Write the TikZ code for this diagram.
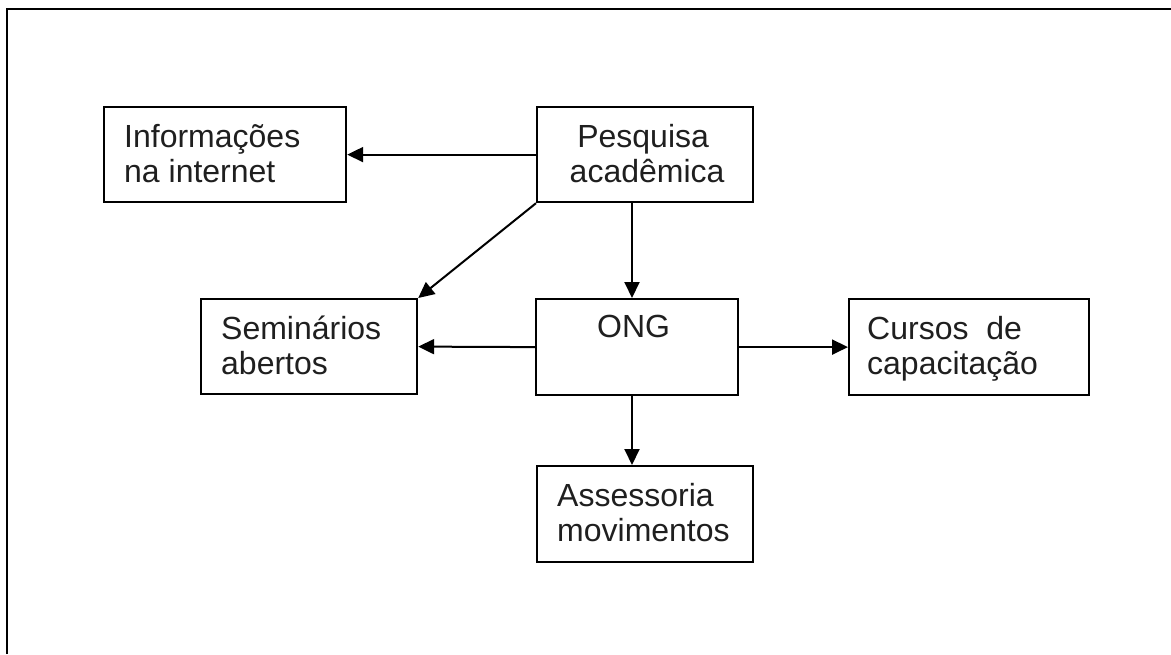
\documentclass[tikz,border=0pt]{standalone}
\usepackage{fontspec}
\setmainfont{Liberation Sans}
\usetikzlibrary{arrows.meta,calc}
\tikzset{
  box/.style={draw=black, line width=2.2pt, inner sep=0pt, anchor=north west},
  txt/.style={inner sep=0pt, anchor=base west, text=black!88, font=\fontsize{32}{35}\selectfont},
  ctxt/.style={inner sep=0pt, anchor=base, text=black!88, font=\fontsize{32}{35}\selectfont},
  arr/.style={draw=black, line width=2pt, -{Triangle[length=16pt,width=15pt]}}
}
\begin{document}
\begin{tikzpicture}[x=1pt,y=-1pt]
\useasboundingbox (0,0) rectangle (1171,654);
\draw[line width=2.6pt, line cap=butt] (7,654) -- (7,9) -- (1171,9);
% boxes
\node[box, minimum width=242pt, minimum height=95pt] (inf) at (103,106) {};
\node[box, minimum width=216pt, minimum height=95pt] (pes) at (536,106) {};
\node[box, minimum width=216pt, minimum height=95pt] (sem) at (200,298) {};
\node[box, minimum width=202pt, minimum height=96pt] (ong) at (535,298) {};
\node[box, minimum width=240pt, minimum height=96pt] (cur) at (848,298) {};
\node[box, minimum width=216pt, minimum height=96pt] (ass) at (536,465) {};
% texts
\node[txt] (inf1) at ($(inf.north west)+(21,41)$) {Informações};
\node[txt] (inf2) at ($(inf.north west)+(21,76)$) {na internet};
\node[ctxt] (pes1) at ($(pes.north)+(-2,41)$) {Pesquisa};
\node[ctxt] (pes2) at ($(pes.north)+(2,76)$) {acadêmica};
\node[txt] (sem1) at ($(sem.north west)+(21,41)$) {Seminários};
\node[txt] (sem2) at ($(sem.north west)+(21,76)$) {abertos};
\node[txt] (ong1) at ($(ong.north west)+(62,39)$) {ONG};
\node[txt] (cur1) at ($(cur.north west)+(19,41)$) {Cursos\ \ de};
\node[txt] (cur2) at ($(cur.north west)+(19,76)$) {capacitação};
\node[txt] (ass1) at ($(ass.north west)+(21,41)$) {Assessoria};
\node[txt] (ass2) at ($(ass.north west)+(21,76)$) {movimentos};
% connectors
\coordinate (pd) at (632,201);
\coordinate (od) at (632,394);
\draw[arr] (pes.west) -- (inf.east);
\draw[arr] (pd) -- (pd |- ong.north);
\draw[arr] (pes.south west) -- (sem.north east);
\draw[arr] (ong.west) -- (sem.east);
\draw[arr] (ong.east) -- (cur.west);
\draw[arr] (od) -- (od |- ass.north);
\end{tikzpicture}
\end{document}
